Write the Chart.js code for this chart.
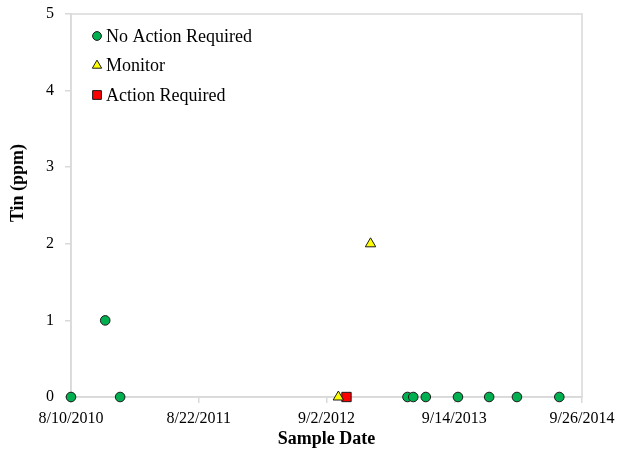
<!DOCTYPE html>
<html><head><meta charset="utf-8">
<script src="https://cdn.jsdelivr.net/npm/chart.js@4.4.1/dist/chart.umd.min.js"></script>
<style>html,body{margin:0;padding:0;background:#fff}#wrap{width:618px;height:453px}</style>
</head><body><div id="wrap"><canvas id="c" width="618" height="453"></canvas></div>
<script>
// ---- data ----
const seriesNames = ['No Action Required', 'Monitor', 'Action Required'];
const noActionDates = ['2010-08-10','2010-11-19','2011-01-02','2013-04-29','2013-05-16','2013-06-22','2013-09-25','2013-12-26','2014-03-18','2014-07-21'];
const noActionValues = [0, 1, 0, 0, 0, 0, 0, 0, 0, 0];
const monitorDates = ['2012-10-07','2013-01-10'];
const monitorValues = [0, 2];
const actionDates = ['2012-10-31'];
const actionValues = [0];
const xTickDates = ['2010-08-10','2011-08-22','2012-09-02','2013-09-14','2014-09-26'];
const yMin = 0, yMax = 5, yStep = 1;
const xTitle = 'Sample Date';
const yTitle = 'Tin (ppm)';

// ---- helpers ----
function toDay(s){ const p = s.split('-').map(Number); return Date.UTC(p[0], p[1]-1, p[2]) / 86400000; }
function fmtDay(v){ const d = new Date(Math.round(v) * 86400000); return (d.getUTCMonth()+1) + '/' + d.getUTCDate() + '/' + d.getUTCFullYear(); }
function pts(dates, vals){ return dates.map((d, i) => ({x: toDay(d), y: vals[i]})); }

const FONT = "'Liberation Serif', 'Times New Roman', serif";
const GRAY = '#d9d9d9';

const borderPlugin = {
  id: 'plotBorder',
  beforeDatasetsDraw(chart){
    const a = chart.chartArea, ctx = chart.ctx;
    ctx.save(); ctx.strokeStyle = GRAY; ctx.lineWidth = 1.5;
    ctx.strokeRect(a.left, a.top, a.right - a.left, a.bottom - a.top);
    ctx.restore();
  }
};

const textPlugin = {
  id: 'textStuff',
  afterDraw(chart){
    const a = chart.chartArea, ctx = chart.ctx;
    ctx.save();
    ctx.fillStyle = '#000';
    // axis titles
    ctx.font = 'bold 18px ' + FONT;
    ctx.textAlign = 'center'; ctx.textBaseline = 'middle';
    ctx.fillText(xTitle, (a.left + a.right) / 2, 439);
    ctx.translate(18.5, 183); ctx.rotate(-Math.PI / 2);
    ctx.fillText(yTitle, 0, 0);
    ctx.restore();
    // legend
    ctx.save();
    ctx.font = '18px ' + FONT;
    ctx.textAlign = 'left'; ctx.textBaseline = 'middle';
    chart.data.datasets.forEach((ds, i) => {
      const y = a.top + 22 + i * 29.5;
      const x = a.left + 26;
      ctx.fillStyle = ds.backgroundColor; ctx.strokeStyle = ds.borderColor; ctx.lineWidth = 1;
      Chart.helpers.drawPoint(ctx, {pointStyle: ds.pointStyle, radius: ds.legendRadius, rotation: 0, borderWidth: 1}, x, y);
      ctx.fillStyle = '#000';
      ctx.fillText(ds.label, x + 9, y + 1);
    });
    ctx.restore();
  }
};

new Chart(document.getElementById('c'), {
  type: 'scatter',
  data: {
    datasets: [
      { label: seriesNames[0], data: pts(noActionDates, noActionValues), pointStyle: 'circle', pointRadius: 4.8, pointHoverRadius: 4.8,
        backgroundColor: '#00b050', borderColor: '#1a1a1a', borderWidth: 1, legendRadius: 4.4, clip: false },
      { label: seriesNames[1], data: pts(monitorDates, monitorValues), pointStyle: 'triangle', pointRadius: 6, pointHoverRadius: 6,
        backgroundColor: '#ffff00', borderColor: '#1a1a1a', borderWidth: 1, legendRadius: 5.4, clip: false },
      { label: seriesNames[2], data: pts(actionDates, actionValues), pointStyle: 'rect', pointRadius: 6.6, pointHoverRadius: 6.6,
        backgroundColor: '#ff0000', borderColor: '#1a1a1a', borderWidth: 1, legendRadius: 6.2, clip: false }
    ]
  },
  options: {
    responsive: false, animation: false, devicePixelRatio: 1,
    layout: { padding: { left: 0, right: 36, top: 14, bottom: 0 } },
    plugins: { legend: { display: false }, tooltip: { enabled: false } },
    scales: {
      x: {
        type: 'linear',
        min: toDay(xTickDates[0]), max: toDay(xTickDates[xTickDates.length - 1]),
        afterBuildTicks(s){ s.ticks = xTickDates.map(d => ({ value: toDay(d) })); },
        afterFit(s){ s.height = 56; s.paddingLeft = 0; s.paddingRight = 0; },
        ticks: { callback: v => fmtDay(v), font: { family: FONT, size: 16 }, color: '#000', padding: 6, maxRotation: 0, autoSkip: false },
        grid: { display: true, drawOnChartArea: false, drawTicks: true, tickLength: 6, color: GRAY, lineWidth: 1.5 },
        border: { display: true, color: GRAY, width: 1.5 }
      },
      y: {
        min: yMin, max: yMax,
        afterFit(s){ s.width = 71; s.paddingTop = 0; s.paddingBottom = 0; },
        ticks: { stepSize: yStep, font: { family: FONT, size: 16 }, color: '#000', padding: 11 },
        grid: { display: true, drawOnChartArea: false, drawTicks: true, tickLength: 6, color: GRAY, lineWidth: 1.5 },
        border: { display: true, color: GRAY, width: 1.5 }
      }
    }
  },
  plugins: [borderPlugin, textPlugin]
});
</script></body></html>
